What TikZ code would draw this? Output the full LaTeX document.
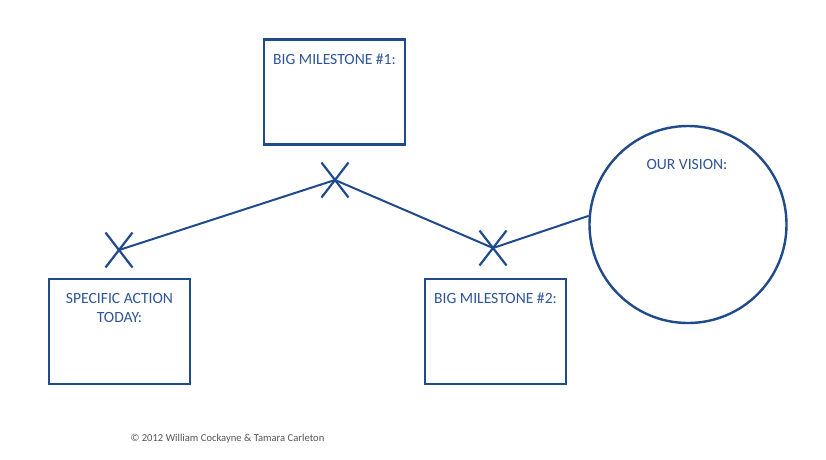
\documentclass[tikz,border=0pt]{standalone}
\usepackage{fontspec}
\setmainfont{Carlito}
\definecolor{planblue}{HTML}{1F4A8C}
\definecolor{labelblue}{HTML}{2F5597}
\definecolor{notegray}{HTML}{555555}
\begin{document}
\begin{tikzpicture}[x=1pt,y=-1pt,
  stagebox/.style={draw=planblue,line width=2.4pt,minimum width=141pt,minimum height=105pt,inner sep=0pt},
  visionring/.style={draw=planblue,line width=2.4pt,circle,minimum size=197pt,inner sep=0pt},
  caption/.style={text=labelblue,font=\fontsize{15.6}{19}\selectfont,align=center,inner sep=0pt},
  link/.style={draw=planblue,line width=2pt},
  crossmark/.style={draw=planblue,line width=2.2pt}]
\useasboundingbox (0,0) rectangle (826,459);
% boxes and the vision circle
\node[stagebox] (ms1) at (334.5,92) {};
\node[stagebox] (today) at (119.5,331.5) {};
\node[stagebox] (ms2) at (495.5,331.5) {};
\node[visionring] (vision) at (688,224.5) {};
% captions
\node[caption] (ms1text) at (334.5,59) {BIG MILESTONE \#1:};
\node[caption] (todaytext) at (119.5,307.5) {SPECIFIC ACTION\\TODAY:};
\node[caption] (ms2text) at (495.5,298) {BIG MILESTONE \#2:};
\node[caption] (visiontext) at (687,164) {OUR VISION:};
% crossing points on the path
\coordinate (x0) at (119,250);
\coordinate (x1) at (335,180);
\coordinate (x2) at (493,248);
% path from today to the vision
\draw[link] (x0) -- (x1) -- (x2) -- (vision.175);
% crosses
\foreach \p in {x0,x1,x2}{
  \draw[crossmark] ([shift={(-13.5,-17.5)}]\p) -- ([shift={(13.5,17.5)}]\p);
  \draw[crossmark] ([shift={(13.5,-17.5)}]\p) -- ([shift={(-13.5,17.5)}]\p);
}
% credit line
\node[text=notegray,font=\fontsize{10.6}{12}\selectfont,inner sep=0pt] (credit) at (227.5,439) {© 2012 William Cockayne \& Tamara Carleton};
\end{tikzpicture}
\end{document}
